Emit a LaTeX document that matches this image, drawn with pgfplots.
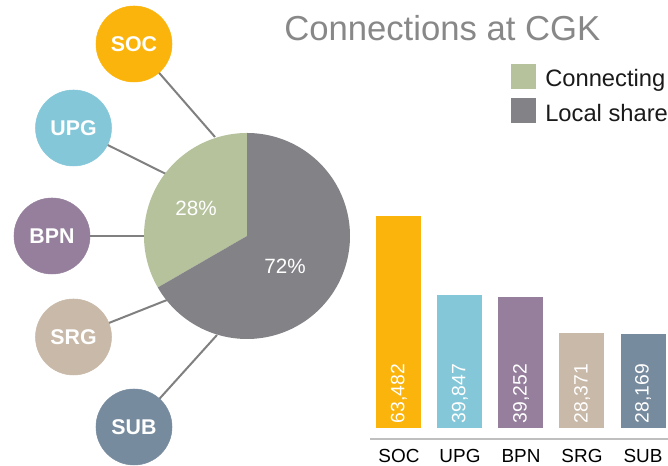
\documentclass[border=0pt]{standalone}
\usepackage{pgfplots}
\pgfplotsset{compat=1.18}
\usepackage{fontspec}
\setmainfont{Liberation Sans}
\definecolor{socc}{HTML}{FBB40B}
\definecolor{upgc}{HTML}{83C7D9}
\definecolor{bpnc}{HTML}{957F9C}
\definecolor{srgc}{HTML}{C9B9A8}
\definecolor{subc}{HTML}{778B9E}
\definecolor{pgreen}{HTML}{B5C29C}
\definecolor{pgray}{HTML}{838287}
\definecolor{linec}{HTML}{808080}
\definecolor{titlec}{HTML}{888888}
\definecolor{axisc}{HTML}{BFBFBF}
\definecolor{txtc}{HTML}{1A1A1A}
\begin{document}
\begin{tikzpicture}
\path[use as bounding box] (0,0) rectangle (501pt,349.5pt);
\clip (0,0) rectangle (501pt,349.5pt);
\begin{axis}[at={(0pt,0pt)}, anchor=south west, scale only axis,
  width=501pt, height=349.5pt, xmin=0, xmax=668, ymin=0, ymax=466,
  hide axis, clip=false]
% connector lines
\addplot[linec, line width=1.5pt] coordinates {(134,422) (215,329)};
\addplot[linec, line width=1.5pt] coordinates {(73.5,338) (166,292)};
\addplot[linec, line width=1.5pt] coordinates {(52,230) (150,230)};
\addplot[linec, line width=1.5pt] coordinates {(73.5,129) (167,166)};
\addplot[linec, line width=1.5pt] coordinates {(134,39) (217,131)};
% pie
\addplot[draw=none, fill=pgreen, domain=90:210, samples=61] ({247+103*cos(x)},{230+103*sin(x)}) -- (axis cs:247,230) -- cycle;
\addplot[draw=none, fill=pgray, domain=210:450, samples=121] ({247+103*cos(x)},{230+103*sin(x)}) -- (axis cs:247,230) -- cycle;
\addplot[draw=none, mark=none, nodes near coords, point meta=explicit symbolic,
  nodes near coords style={anchor=center, text=white, font=\fontsize{15.5}{18}\selectfont}]
  coordinates {(196,258) [28\%] (285,200) [72\%]};
% circles
\addplot[only marks, mark=*, mark size=28.5pt, color=socc, mark options={solid, draw=socc, fill=socc}] coordinates {(134,422)};
\addplot[only marks, mark=*, mark size=28.5pt, color=upgc, mark options={solid, draw=upgc, fill=upgc}] coordinates {(73.5,338)};
\addplot[only marks, mark=*, mark size=28.5pt, color=bpnc, mark options={solid, draw=bpnc, fill=bpnc}] coordinates {(52,230)};
\addplot[only marks, mark=*, mark size=28.5pt, color=srgc, mark options={solid, draw=srgc, fill=srgc}] coordinates {(73.5,129)};
\addplot[only marks, mark=*, mark size=28.5pt, color=subc, mark options={solid, draw=subc, fill=subc}] coordinates {(134,39)};
\addplot[draw=none, mark=none, nodes near coords, point meta=explicit symbolic,
  nodes near coords style={anchor=center, text=white, font=\fontsize{16}{18}\selectfont\bfseries}]
  coordinates {(134,422) [SOC] (73.5,338) [UPG] (52,230) [BPN] (73.5,129) [SRG] (134,39) [SUB]};
% legend
\addplot[only marks, mark=square*, mark size=9pt, color=pgreen, mark options={solid, draw=pgreen, fill=pgreen}] coordinates {(523,390)};
\addplot[only marks, mark=square*, mark size=9pt, color=pgray, mark options={solid, draw=pgray, fill=pgray}] coordinates {(523,356)};
\node[anchor=base west, inner sep=0pt, text=txtc, font=\fontsize{17.8}{21}\selectfont] at (axis cs:545,379) {Connecting};
\node[anchor=base west, inner sep=0pt, text=txtc, font=\fontsize{17.8}{21}\selectfont] at (axis cs:545,344) {Local share};
% title
\node[anchor=base west, inner sep=0pt, text=titlec, font=\fontsize{26}{30}\selectfont] at (axis cs:284,425) {Connections at CGK};
\end{axis}
\begin{axis}[at={(277.5pt,20.25pt)}, anchor=south west, scale only axis,
  width=250.5pt, height=171.1pt, xmin=-0.475, xmax=5, ymin=-3294, ymax=65000,
  axis x line*=bottom, axis y line=none,
  x axis line style={axisc, line width=1.2pt, -},
  xtick={0,...,4}, xticklabels={SOC,UPG,BPN,SRG,SUB},
  major tick length=0pt,
  xticklabel style={font=\fontsize{14.2}{17}\selectfont, text=black, yshift=-4pt},
  clip=false]
\addplot[ybar, bar width=0.7377, bar shift=0pt, fill=socc, draw=none] coordinates {(0,63482)};
\addplot[ybar, bar width=0.7377, bar shift=0pt, fill=upgc, draw=none] coordinates {(1,39847)};
\addplot[ybar, bar width=0.7377, bar shift=0pt, fill=bpnc, draw=none] coordinates {(2,39252)};
\addplot[ybar, bar width=0.7377, bar shift=0pt, fill=srgc, draw=none] coordinates {(3,28371)};
\addplot[ybar, bar width=0.7377, bar shift=0pt, fill=subc, draw=none] coordinates {(4,28169)};
\addplot[draw=none, mark=none, nodes near coords, point meta=explicit symbolic,
  nodes near coords style={rotate=90, anchor=west, text=white, font=\fontsize{14.5}{17}\selectfont}]
  coordinates {(0,0) [63,482] (1,0) [39,847] (2,0) [39,252] (3,0) [28,371] (4,0) [28,169]};
\end{axis}
\end{tikzpicture}
\end{document}
